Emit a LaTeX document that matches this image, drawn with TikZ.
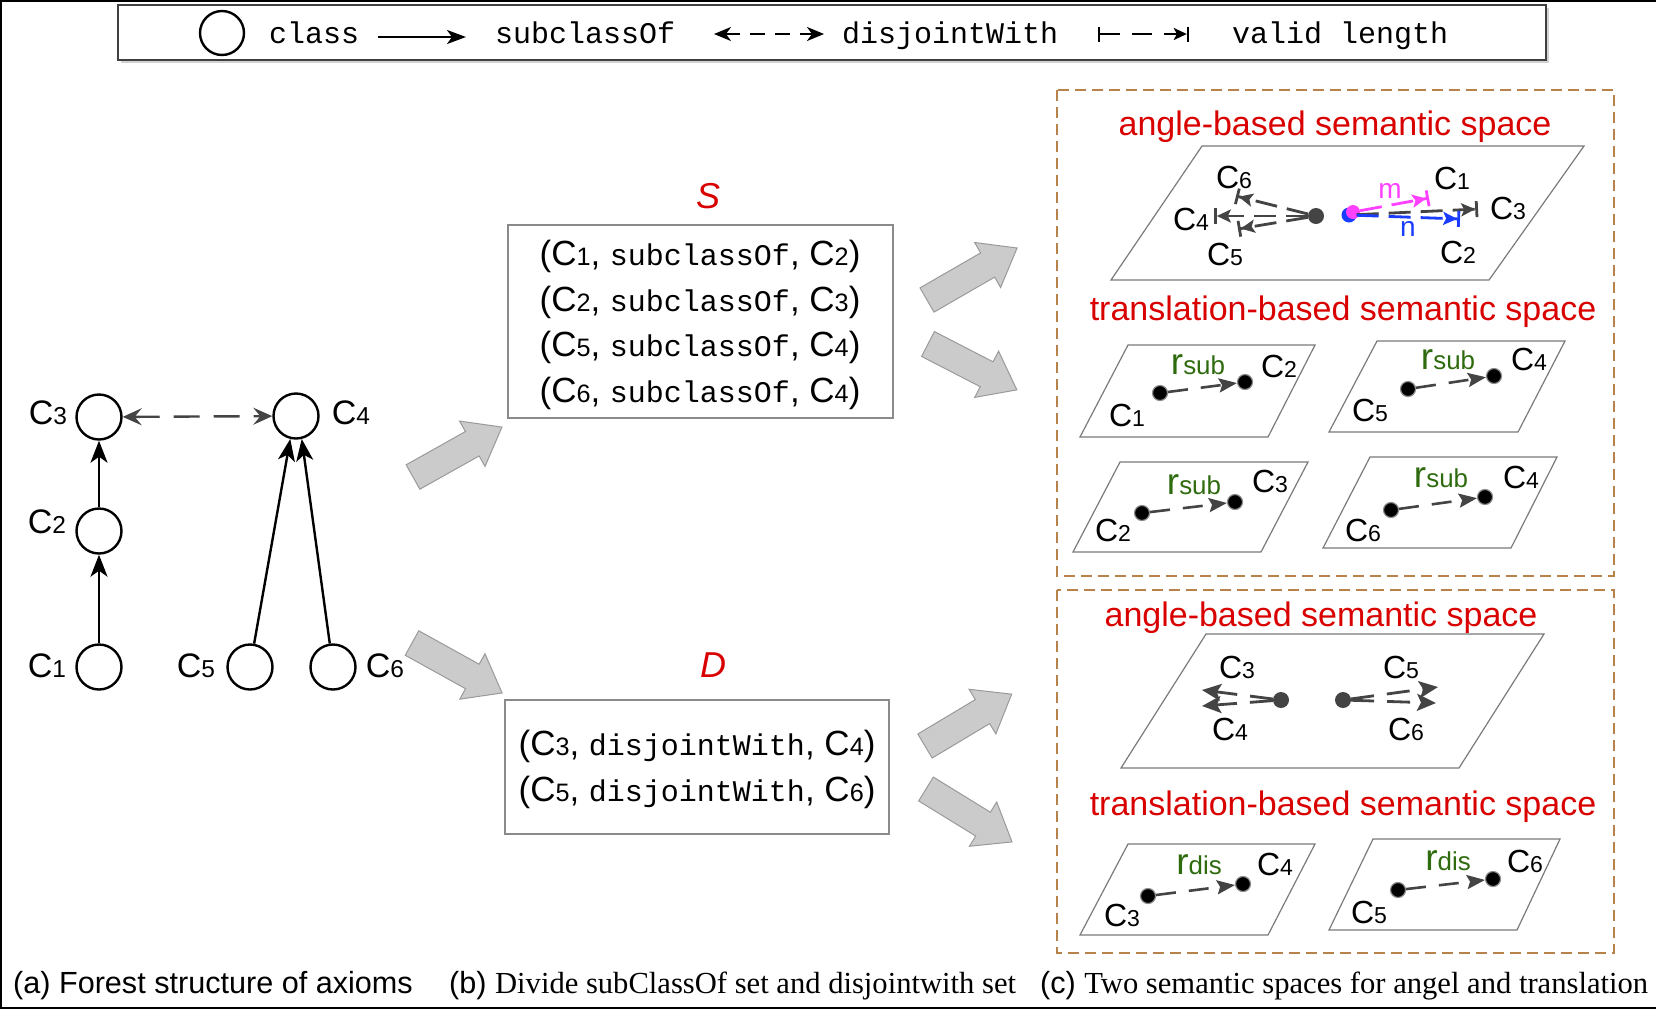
\documentclass[tikz,border=0pt]{standalone}
\usepackage{fontspec}
\setmainfont{Liberation Sans}
\setmonofont{Liberation Mono}
\newfontfamily\tms{Liberation Serif}
\usetikzlibrary{arrows.meta,shadows}
\definecolor{dgray}{HTML}{444444}
\definecolor{boxgray}{HTML}{8A8A8A}
\definecolor{planegray}{HTML}{7A7A7A}
\definecolor{titlered}{HTML}{D90000}
\definecolor{rgreen}{HTML}{2E6B0E}
\definecolor{tanc}{HTML}{B8834A}
\definecolor{magc}{HTML}{FF40FF}
\definecolor{bluc}{HTML}{1A3CFF}
\definecolor{arrfill}{HTML}{CBCBCB}
\definecolor{arrdraw}{HTML}{9A9A9A}
\newcommand\fs[1]{\fontsize{#1}{#1}\selectfont}
\newcommand\cc[1]{C\scalebox{0.72}{#1}}
\newcommand\rr[1]{r\scalebox{0.7}{#1}}
\newcommand\blockarrow[4]{\begin{scope}[shift={(#1,#2)},rotate=#3]
  \draw[blockarr] (0,14) -- (#4-34,14) -- (#4-34,26) -- (#4,0) -- (#4-34,-26) -- (#4-34,-14) -- (0,-14) -- cycle;
  \end{scope}}
\begin{document}
\begin{tikzpicture}[x=1pt,y=-1pt,
  cls/.style={circle,draw,line width=2.4pt,minimum size=45pt,inner sep=0pt},
  lbl/.style={inner sep=0pt,font=\fs{34}},
  slbl/.style={inner sep=0pt,font=\fs{32}},
  ttl/.style={inner sep=0pt,font=\fs{34},text=titlered},
  rlbl/.style={inner sep=0pt,font=\fs{37},text=rgreen},
  subarr/.style={line width=2.4pt,-{Stealth[length=22pt,width=17pt,inset=6pt]}},
  disarr/.style={line width=2.4pt,draw=dgray,dash pattern=on 26pt off 14pt,
     {Stealth[length=19pt,width=17pt,inset=7pt]}-{Stealth[length=19pt,width=17pt,inset=7pt]}},
  blockarr/.style={fill=arrfill,draw=arrdraw,line width=1pt},
  plane/.style={draw=planegray,line width=1.2pt},
  tdot/.style={circle,fill=black,draw=black!45,line width=1.2pt,minimum size=15pt,inner sep=0pt},
  adot/.style={circle,fill=dgray,minimum size=16pt,inner sep=0pt},
  tarr/.style={draw=dgray,line width=2.6pt,dash pattern=on 20pt off 13pt,-{Stealth[length=18pt,width=14pt,inset=3pt]}},
  varr/.style={line width=2.8pt,dash pattern=on 22pt off 10pt,-{Stealth[length=14pt,width=13pt,inset=3pt] Bar[width=16pt]}},
  aarr/.style={draw=dgray,line width=2.8pt,dash pattern=on 23pt off 13pt,-{Stealth[length=19pt,width=17pt,inset=4pt]}},
  seqbox/.style={draw=boxgray,line width=1.2pt,inner sep=0pt},
  dashbox/.style={draw=tanc,line width=1.8pt,dash pattern=on 11pt off 6pt},
  mono/.style={inner sep=0pt,font=\fs{30}\ttfamily,anchor=base west},
  captxt/.style={inner sep=0pt,anchor=base west,font=\fs{30.6}}
]
\useasboundingbox (0,0) rectangle (1656,1010);
% outer frame
\draw[line width=1.5pt] (1656,1) -- (1,1) -- (1,1008) -- (1656,1008);

% legend
\node[draw=black!75,line width=1.2pt,fill=white,minimum width=1428pt,minimum height=55pt,inner sep=0pt,
  drop shadow={shadow xshift=3pt,shadow yshift=-3pt,fill=black!35}] (legend) at (832,32.5) {};
\node[cls,minimum size=44pt] (lc) at (222,33) {};
\node[mono] (lclass) at (269,43) {class};
\coordinate (la1) at (378,37); \coordinate (la2) at (466,37);
\draw[line width=2.2pt,-{Stealth[length=19pt,width=14pt,inset=5pt]}] (la1) -- (la2);
\node[mono] (lsub) at (495,43) {subclassOf};
\coordinate (ld1) at (714,34); \coordinate (ld2) at (824,34);
\draw[line width=2.2pt,dash pattern=on 15pt off 10pt,
  {Stealth[length=17pt,width=14pt,inset=5pt]}-{Stealth[length=17pt,width=14pt,inset=5pt]}] (ld1) -- (ld2);
\node[mono] (ldis) at (842,43) {disjointWith};
\coordinate (lv1) at (1098,34); \coordinate (lv2) at (1189,34);
\draw[line width=2.2pt,dash pattern=on 20pt off 12pt,
  {Bar[width=15pt]}-{Stealth[length=13pt,width=12pt,inset=3pt] Bar[width=15pt]}] (lv1) -- (lv2);
\node[mono] (lval) at (1232,43) {valid length};

% tree
\node[cls] (C3) at (99,417) {};
\node[cls] (C4) at (296,416) {};
\node[cls] (C2) at (99,531) {};
\node[cls] (C1) at (99,667) {};
\node[cls] (C5) at (250,667) {};
\node[cls] (C6) at (333,667) {};
\node[lbl] (t3) at (48,413) {\cc{3}};
\node[lbl] (t4) at (351,413) {\cc{4}};
\node[lbl] (t2) at (47,522) {\cc{2}};
\node[lbl] (t1) at (47,666) {\cc{1}};
\node[lbl] (t5) at (196,666) {\cc{5}};
\node[lbl] (t6) at (385,666) {\cc{6}};
\draw[subarr] (C1) -- (C2);
\draw[subarr] (C2) -- (C3);
\draw[subarr] (C5) -- (C4.-104);
\draw[subarr] (C6) -- (C4.-76);
\draw[disarr] (C3) -- (C4);

% S and D
\node[inner sep=0pt,font=\fs{36}\itshape,text=titlered] (Slab) at (708,196) {S};
\node[seqbox,minimum width=385pt,minimum height=193pt] (Sbox) at (700.5,321.5) {};
\node[inner sep=0pt,align=center,font=\fontsize{35}{45.5}\selectfont] (Stext) at (700,325)
 {(\cc{1}, {\fs{30}\ttfamily subclassOf}, \cc{2})\\
  (\cc{2}, {\fs{30}\ttfamily subclassOf}, \cc{3})\\
  (\cc{5}, {\fs{30}\ttfamily subclassOf}, \cc{4})\\
  (\cc{6}, {\fs{30}\ttfamily subclassOf}, \cc{4})};
\node[inner sep=0pt,font=\fs{36}\itshape,text=titlered] (Dlab) at (713,665) {D};
\node[seqbox,minimum width=384pt,minimum height=134pt] (Dbox) at (697,767) {};
\node[inner sep=0pt,align=center,font=\fontsize{35}{46}\selectfont] (Dtext) at (697,769)
 {(\cc{3}, {\fs{30}\ttfamily disjointWith}, \cc{4})\\
  (\cc{5}, {\fs{30}\ttfamily disjointWith}, \cc{6})};

% block arrows
\blockarrow{413}{477}{29.3}{102}
\blockarrow{927}{300}{30}{104}
\blockarrow{928}{344}{-27.3}{100}
\blockarrow{412}{643}{-29}{103}
\blockarrow{925}{746}{30.9}{101}
\blockarrow{926}{789}{-31.6}{101}

% dashed boxes
\draw[dashbox] (1057,90) rectangle (1614,576);
\draw[dashbox] (1057,590) rectangle (1614,953);
\node[ttl] (ti1) at (1335,127) {angle-based semantic space};
\node[ttl] (ti2) at (1343,312) {translation-based semantic space};
\node[ttl] (ti3) at (1321,618) {angle-based semantic space};
\node[ttl] (ti4) at (1343,807) {translation-based semantic space};

% angle space 1
\draw[plane] (1202,146) -- (1584,146) -- (1489,280) -- (1111,280) -- cycle;
\node[adot] (L1) at (1316,216) {};
\coordinate (e6) at (1236,196); \coordinate (e4) at (1214,216); \coordinate (e5) at (1238,229);
\draw[varr,draw=dgray] (L1) -- (e6);
\draw[varr,draw=dgray] (L1) -- (e4);
\draw[varr,draw=dgray] (L1) -- (e5);
\node[circle,fill=bluc,minimum size=15pt,inner sep=0pt] (pb) at (1349,215) {};
\node[circle,fill=magc,minimum size=14pt,inner sep=0pt] (pm) at (1353,212) {};
\coordinate (e3) at (1478,209); \coordinate (en) at (1460,219); \coordinate (em) at (1429,198);
\draw[varr,draw=dgray] (pb) -- (e3);
\draw[varr,draw=bluc] (pb) -- (en);
\draw[varr,draw=magc] (pm) -- (em);
\node[slbl] (a6) at (1234,177) {\cc{6}};
\node[slbl] (a4) at (1191,219) {\cc{4}};
\node[slbl] (a5) at (1225,254) {\cc{5}};
\node[slbl] (a1) at (1452,178) {\cc{1}};
\node[slbl] (a3) at (1508,208) {\cc{3}};
\node[slbl] (a2) at (1458,252) {\cc{2}};
\node[inner sep=0pt,font=\fs{28},text=magc] (mm) at (1390,191) {m};
\node[inner sep=0pt,font=\fs{28},text=bluc] (nn) at (1408,229) {n};

% angle space 2
\draw[plane] (1206,634) -- (1544,634) -- (1459,768) -- (1121,768) -- cycle;
\node[adot] (L2) at (1281,700) {};
\node[adot] (R2) at (1343,700) {};
\coordinate (f3) at (1202,690); \coordinate (f4) at (1202,706);
\coordinate (f5) at (1438,687); \coordinate (f6) at (1436,703);
\draw[aarr] (L2) -- (f3);
\draw[aarr] (L2) -- (f4);
\draw[aarr] (R2) -- (f5);
\draw[aarr] (R2) -- (f6);
\node[slbl] (b3) at (1237,667) {\cc{3}};
\node[slbl] (b4) at (1230,729) {\cc{4}};
\node[slbl] (b5) at (1401,667) {\cc{5}};
\node[slbl] (b6) at (1406,729) {\cc{6}};

% translation spaces
\draw[plane] (1128,345) -- (1315,345) -- (1268,437) -- (1080,437) -- cycle;
\node[tdot] (p1a) at (1160,393) {}; \node[tdot] (p1b) at (1245,382) {};
\draw[tarr] (p1a) -- (p1b);
\node[rlbl] (r1) at (1198,365) {\rr{sub}};
\node[slbl] (q1b) at (1279,366) {\cc{2}};
\node[slbl] (q1a) at (1127,415) {\cc{1}};

\draw[plane] (1120,462) -- (1308,462) -- (1261,552) -- (1073,552) -- cycle;
\node[tdot] (p2a) at (1142,513) {}; \node[tdot] (p2b) at (1235,502) {};
\draw[tarr] (p2a) -- (p2b);
\node[rlbl] (r2) at (1194,485) {\rr{sub}};
\node[slbl] (q2b) at (1270,481) {\cc{3}};
\node[slbl] (q2a) at (1113,530) {\cc{2}};

\draw[plane] (1377,341) -- (1565,341) -- (1518,432) -- (1329,432) -- cycle;
\node[tdot] (p3a) at (1408,389) {}; \node[tdot] (p3b) at (1494,376) {};
\draw[tarr] (p3a) -- (p3b);
\node[rlbl] (r3) at (1448,360) {\rr{sub}};
\node[slbl] (q3b) at (1529,359) {\cc{4}};
\node[slbl] (q3a) at (1370,410) {\cc{5}};

\draw[plane] (1370,457) -- (1557,457) -- (1511,548) -- (1323,548) -- cycle;
\node[tdot] (p4a) at (1391,510) {}; \node[tdot] (p4b) at (1485,497) {};
\draw[tarr] (p4a) -- (p4b);
\node[rlbl] (r4) at (1441,478) {\rr{sub}};
\node[slbl] (q4b) at (1521,477) {\cc{4}};
\node[slbl] (q4a) at (1363,530) {\cc{6}};

\draw[plane] (1128,844) -- (1315,844) -- (1268,935) -- (1080,935) -- cycle;
\node[tdot] (p5a) at (1148,896) {}; \node[tdot] (p5b) at (1243,884) {};
\draw[tarr] (p5a) -- (p5b);
\node[rlbl] (r5) at (1199,865) {\rr{dis}};
\node[slbl] (q5b) at (1275,864) {\cc{4}};
\node[slbl] (q5a) at (1122,915) {\cc{3}};

\draw[plane] (1373,839) -- (1560,839) -- (1517,930) -- (1329,930) -- cycle;
\node[tdot] (p6a) at (1398,890) {}; \node[tdot] (p6b) at (1493,879) {};
\draw[tarr] (p6a) -- (p6b);
\node[rlbl] (r6) at (1448,861) {\rr{dis}};
\node[slbl] (q6b) at (1525,861) {\cc{6}};
\node[slbl] (q6a) at (1369,912) {\cc{5}};

% captions
\node[captxt] (capa) at (13,993) {(a) Forest structure of axioms};
\node[captxt] (capb) at (449,993) {(b) {\tms Divide subClassOf set and disjointwith set}};
\node[captxt] (capc) at (1040,993) {(c) {\tms Two semantic spaces for angel and translation}};
\end{tikzpicture}
\end{document}
